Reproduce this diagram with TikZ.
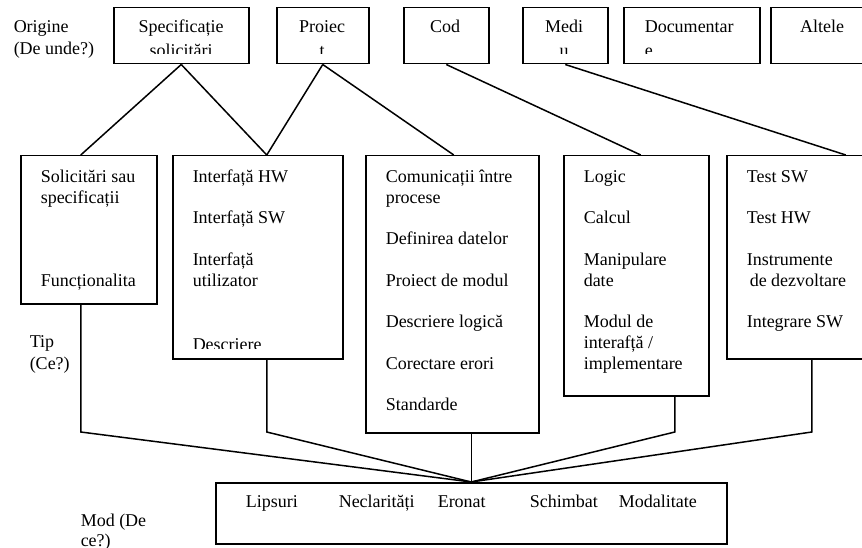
\documentclass[tikz,border=0pt]{standalone}
\usepackage{fontspec}
\setmainfont{Liberation Serif}
\usetikzlibrary{positioning}

\begin{document}
\begin{tikzpicture}[x=1pt, y=-1pt, line width=1.5pt]
        % --- STILI ---
        % (nodi su piu righe: la base e' quella dell'ultima riga)
        \tikzset{
            box/.style={draw, rectangle, inner sep=0pt, anchor=north west},
            txt/.style={anchor=base west, inner sep=0pt, align=left, font=\fontsize{18}{21}\selectfont},
            ctxt/.style={anchor=base, inner sep=0pt, align=center, font=\fontsize{18}{21}\selectfont}
        }
        \clip (0,0) rectangle (862,548);

        % --- RIGA 1: ORIGINE ---
        \node [box, minimum width=135pt, minimum height=56pt] (box_spec) at (113,7) {};
        \node [box, minimum width=92pt, minimum height=56pt] (box_proj) at (276,7) {};
        \node [box, minimum width=85pt, minimum height=56pt] (box_cod) at (403,7) {};
        \node [box, minimum width=85pt, minimum height=56pt] (box_mediu) at (522,7) {};
        \node [box, minimum width=136pt, minimum height=56pt] (box_doc) at (623,7) {};
        \node [box, minimum width=110pt, minimum height=56pt] (box_alt) at (770,7) {};

        \node [txt] (lbl_orig) at (13,55) {Origine\\[1pt](De unde?)};
        \begin{scope}
            \clip (box_spec.north west) rectangle ([yshift=10.5pt]box_spec.south east);
            \node [ctxt] (t_spec) at (181,57) {Specificație\\[3pt]solicitări};
        \end{scope}
        \begin{scope}
            \clip (box_proj.north west) rectangle ([yshift=10.5pt]box_proj.south east);
            \node [ctxt] (t_proj) at (322,57) {Proiec\\[3pt]t};
        \end{scope}
        \node [ctxt] (t_cod) at (445,33) {Cod};
        \begin{scope}
            \clip (box_mediu.north west) rectangle ([yshift=10.5pt]box_mediu.south east);
            \node [ctxt] (t_mediu) at (564,57) {Medi\\[3pt]u};
        \end{scope}
        \begin{scope}
            \clip (box_doc.north west) rectangle ([yshift=10.5pt]box_doc.south east);
            \node [txt] (t_doc) at (644,57) {Documentar\\[3pt]e};
        \end{scope}
        \node [ctxt] (t_alt) at (822,33) {Altele};

        % --- RIGA 2: TIP ---
        \node [box, minimum width=136pt, minimum height=148pt] (box_sol) at (20,155) {};
        \node [box, minimum width=170pt, minimum height=203pt] (box_intf) at (172,155) {};
        \node [box, minimum width=173pt, minimum height=277pt] (box_comm) at (365,155) {};
        \node [box, minimum width=145pt, minimum height=240pt] (box_logic) at (563,155) {};
        \node [box, minimum width=150pt, minimum height=203pt] (box_test) at (726,155) {};

        \node [txt] (t_sol) at (40,286) {Solicitări sau\\specificații\\[62pt]Funcționalita};
        \begin{scope}
            \clip (box_intf.north west) rectangle ([yshift=11.5pt]box_intf.south east);
            \node [txt] (t_intf) at (192,350) {Interfață HW\\[20.5pt]Interfață SW\\[20.5pt]Interfață\\utilizator\\[43pt]Descriere};
        \end{scope}
        \node [txt] (t_comm) at (385,410.5) {Comunicații între\\procese\\[20.5pt]Definirea datelor\\[20.5pt]Proiect de modul\\[20.5pt]Descriere logică\\[20.5pt]Corectare erori\\[20.5pt]Standarde};
        \node [txt] (t_logic) at (583,369) {Logic\\[20.5pt]Calcul\\[20.5pt]Manipulare\\date\\[20pt]Modul de\\interafță /\\implementare};
        \node [txt] (t_test) at (746,327) {Test SW\\[20.5pt]Test HW\\[20.5pt]Instrumente\\\hspace{3pt}de dezvoltare\\[20pt]Integrare SW};

        \node [txt] (lbl_tip) at (29,369) {Tip\\[1pt](Ce?)};

        % --- RIGA 3: MOD ---
        \node [box, minimum width=511pt, minimum height=61pt] (box_mod) at (215,482) {};
        \node [txt] (t_lips) at (245,507) {Lipsuri};
        \node [txt] (t_necl) at (338,507) {Neclarități};
        \node [txt] (t_eron) at (437,507) {Eronat};
        \node [txt] (t_schimb) at (529,507) {Schimbat};
        \node [txt] (t_modal) at (618,507) {Modalitate};
        \node [txt] (lbl_mod) at (80,546) {Mod (De\\[-1pt]ce?)};

        % --- CONNESSIONI SUS ---
        \draw (box_spec.south) -- ([xshift=-8pt]box_sol.north);
        \draw (box_spec.south) -- ([xshift=9pt]box_intf.north);
        \draw (box_proj.south) -- ([xshift=9pt]box_intf.north);
        \draw (box_proj.south) -- ([xshift=1.5pt]box_comm.north);
        \draw (box_cod.south) -- ([xshift=4.5pt]box_logic.north);
        \draw (box_mediu.south) -- ([xshift=44pt]box_test.north);

        % --- CONNESSIONI JOS ---
        \coordinate (bus) at (0,432);
        \draw ([xshift=-8pt]box_sol.south) -- ([xshift=-8pt]box_sol.south |- bus) -- (box_mod.north);
        \draw ([xshift=9pt]box_intf.south) -- ([xshift=9pt]box_intf.south |- bus) -- (box_mod.north);
        \draw (box_comm.south -| box_mod.north) -- (box_mod.north);
        \draw ([xshift=38.5pt]box_logic.south) -- ([xshift=38.5pt]box_logic.south |- bus) -- (box_mod.north);
        \draw ([xshift=10pt]box_test.south) -- ([xshift=10pt]box_test.south |- bus) -- (box_mod.north);

    \end{tikzpicture}
\end{document}
